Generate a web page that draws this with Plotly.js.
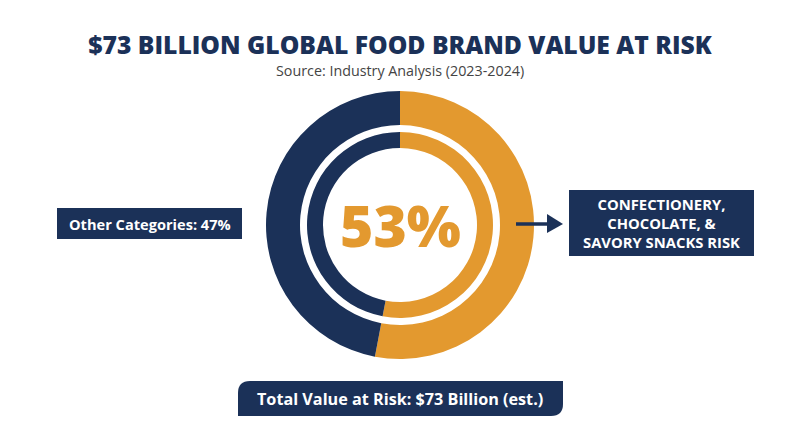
<!DOCTYPE html>
<html>
<head>
<meta charset="utf-8">
<script src="https://cdn.plot.ly/plotly-3.0.1.min.js"></script>
<style>html,body{margin:0;padding:0;background:#fff;}#chart{width:800px;height:447px;}</style>
</head>
<body>
<div id="chart"></div>
<script>
// ---- data ----
const categories = ["Confectionery, Chocolate, & Savory Snacks", "Other Categories"];
const shares = [53, 47];
const totalBillion = 73;
const titleText = "$73 BILLION GLOBAL FOOD BRAND VALUE AT RISK";
const subtitleText = "Source: Industry Analysis (2023-2024)";
const leftLabel = "Other Categories: 47%";
const rightLabel = "CONFECTIONERY,<br>CHOCOLATE, &<br>SAVORY SNACKS RISK";
const centerLabel = shares[0] + "%";
const bottomLabel = "Total Value at Risk: $" + totalBillion + " Billion (est.)";

// ---- styling ----
const NAVY = "#1b3158";
const ORANGE = "#e3992f";
const W = 800, H = 447;
const FONT = "Open Sans, Lato, sans-serif";
const px = x => x / W;
const py = y => 1 - y / H;

const cx = 400, cy = 225;
function dom(r) {
  return { x: [px(cx - r), px(cx + r)], y: [py(cy + r), py(cy - r)] };
}

const outer = {
  type: "pie", values: shares, labels: categories, sort: false,
  direction: "clockwise", rotation: 0, hole: 100 / 134,
  domain: dom(134), textinfo: "none", hoverinfo: "label+percent",
  marker: { colors: [ORANGE, NAVY], line: { width: 0 } }, showlegend: false
};
const inner = {
  type: "pie", values: shares, labels: categories, sort: false,
  direction: "clockwise", rotation: 0, hole: 77 / 93,
  domain: dom(93), textinfo: "none", hoverinfo: "label+percent",
  marker: { colors: [ORANGE, NAVY], line: { width: 0 } }, showlegend: false
};

// bottom box path with rounded top-left and bottom-right corners
const bx0 = 238, bx1 = 563, by0 = 381, by1 = 416, r = 12;
const bottomPath =
  `M ${px(bx0)} ${py(by1)} L ${px(bx0)} ${py(by0 + r)} Q ${px(bx0)} ${py(by0)} ${px(bx0 + r)} ${py(by0)} ` +
  `L ${px(bx1)} ${py(by0)} L ${px(bx1)} ${py(by1 - r)} Q ${px(bx1)} ${py(by1)} ${px(bx1 - r)} ${py(by1)} Z`;

const arrowHead =
  `M ${px(547)} ${py(214)} L ${px(563)} ${py(224)} L ${px(547)} ${py(233)} Z`;

const shapes = [
  { type: "rect", xref: "paper", yref: "paper", x0: px(57), x1: px(242), y0: py(239), y1: py(208),
    fillcolor: NAVY, line: { width: 0 } },
  { type: "rect", xref: "paper", yref: "paper", x0: px(569), x1: px(754), y0: py(256), y1: py(190),
    fillcolor: NAVY, line: { width: 0 } },
  { type: "line", xref: "paper", yref: "paper", x0: px(516), x1: px(550), y0: py(224), y1: py(224),
    line: { color: NAVY, width: 3.5 } },
  { type: "path", xref: "paper", yref: "paper", path: arrowHead, fillcolor: NAVY, line: { width: 0 } },
  { type: "path", xref: "paper", yref: "paper", path: bottomPath, fillcolor: NAVY, line: { width: 0 } }
];

const annotations = [
  { text: subtitleText, xref: "paper", yref: "paper", x: 0.5, y: py(71), showarrow: false,
    xanchor: "center", yanchor: "middle", font: { family: FONT, size: 14.3, color: "#444" } },
  { text: centerLabel, xref: "paper", yref: "paper", x: px(cx), y: py(cy), showarrow: false,
    xanchor: "center", yanchor: "middle", font: { family: FONT, size: 57, color: ORANGE, weight: 800 } },
  { text: leftLabel, xref: "paper", yref: "paper", x: px(149.5), y: py(223.5), showarrow: false,
    xanchor: "center", yanchor: "middle", font: { family: FONT, size: 14.6, color: "#fff", weight: 700 } },
  { text: rightLabel, xref: "paper", yref: "paper", x: px(661.5), y: py(223), showarrow: false,
    xanchor: "center", yanchor: "middle", align: "center",
    font: { family: FONT, size: 14.8, color: "#fff", weight: 700 } },
  { text: bottomLabel, xref: "paper", yref: "paper", x: px(400), y: py(398.5), showarrow: false,
    xanchor: "center", yanchor: "middle", font: { family: FONT, size: 16.2, color: "#fff", weight: 700 } }
];

const layout = {
  width: W, height: H,
  margin: { l: 0, r: 0, t: 0, b: 0 },
  paper_bgcolor: "#fff", plot_bgcolor: "#fff",
  title: { text: titleText, x: 0.5, xanchor: "center", y: py(45), yanchor: "middle", yref: "container",
    font: { family: FONT, size: 24.7, color: NAVY, weight: 800 } },
  shapes: shapes,
  annotations: annotations,
  showlegend: false
};

Plotly.newPlot("chart", [outer, inner], layout, { displayModeBar: false, staticPlot: true });
</script>
</body>
</html>
